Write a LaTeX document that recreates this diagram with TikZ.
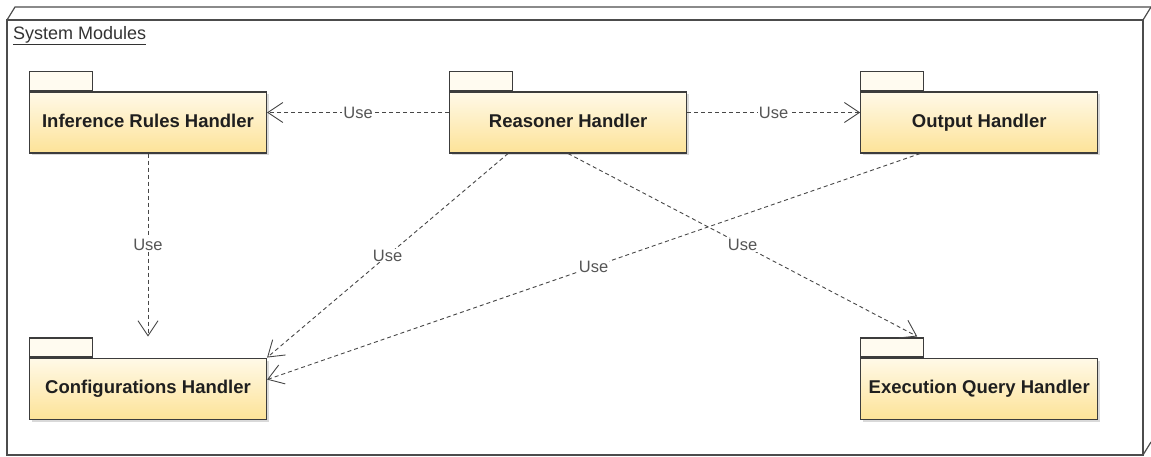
\documentclass[tikz,border=0pt]{standalone}
\usepackage{fontspec}
\setmainfont{Liberation Sans}
\usepackage{tikz}
\usetikzlibrary{calc, arrows.meta, positioning, shadows}
\definecolor{pkgtop}{RGB}{255,249,232}
\definecolor{pkgbottom}{RGB}{253,227,152}
\definecolor{tabfill}{RGB}{255,251,240}
\definecolor{pkgline}{RGB}{60,60,60}
\definecolor{uselabel}{RGB}{85,85,85}

\begin{document}
\begin{tikzpicture}[
        x=1pt, y=-1pt,
        frameline/.style = {draw=black!70, line width=1.2pt},
        pkg/.style = {draw=pkgline, rectangle, line width=1.1pt, top color=pkgtop, bottom color=pkgbottom,
            minimum width=237pt, minimum height=61pt, inner sep=0pt,
            text height=13pt, text depth=3.5pt,
            font=\fontsize{18.5}{21}\selectfont\bfseries, text=black!88,
            drop shadow={shadow xshift=2.5pt, shadow yshift=-2.5pt, opacity=0.3}},
        pkgtab/.style = {draw=pkgline, rectangle, line width=1.1pt, fill=tabfill,
            minimum width=63pt, minimum height=19pt, inner sep=0pt, anchor=south west},
        dep/.style = {draw=black!72, dash pattern=on 4pt off 3pt, line width=0.9pt,
            -{Straight Barb[length=15pt, width=20pt, line width=0.9pt]}},
        uselbl/.style = {fill=white, inner sep=1pt, font=\fontsize{16.5}{19}\selectfont, text=uselabel}
    ]
        \useasboundingbox (0,0) rectangle (1151,457);
        \clip (0,0) rectangle (1151,457);

        % System frame
        \draw [frameline] (7,20) rectangle (1143,455);
        \draw [frameline] (7,20) -- (15,7) -- (1151,7);
        \draw [frameline] (1143,20) -- (1151,7);
        \draw [frameline] (1143,455) -- (1151,442);
        \node (title) [anchor=north west, inner sep=0pt, font=\fontsize{18}{21}\selectfont, text=black!80] at (13,26) {\underline{System Modules}};

        % Packages
        \node (inf) [pkg] at (148,122.5) {Inference Rules Handler};
        \node (rea) [pkg, right=182pt of inf] {Reasoner Handler};
        \node (out) [pkg, right=173pt of rea] {Output Handler};
        \node (cfg) [pkg, below=204pt of inf] {Configurations Handler};
        \node (exe) [pkg, below=204pt of out] {Execution Query Handler};

        % Tabs
        \node (inftab) [pkgtab] at (inf.north west) {};
        \node (reatab) [pkgtab] at (rea.north west) {};
        \node (outtab) [pkgtab] at (out.north west) {};
        \node (cfgtab) [pkgtab] at (cfg.north west) {};
        \node (exetab) [pkgtab] at (exe.north west) {};

        % Dependencies
        \draw [dep] ($(rea.west)+(0,-10)$) -- node [uselbl] {Use} ($(inf.east)+(0,-10)$);
        \draw [dep] ($(rea.east)+(0,-10)$) -- node [uselbl] {Use} ($(out.west)+(0,-10)$);
        \draw [dep] (inf.south) -- node [uselbl] {Use} ($(cfg.north)+(0,-21)$);
        \draw [dep] ($(rea.south west)+(59,0)$) -- node [uselbl] {Use} (cfg.north east);
        \draw [dep] ($(out.south west)+(60,0)$) -- node [uselbl] {Use} ($(cfg.east)+(0,-9)$);
        \draw [dep] ($(rea.south west)+(119,0)$) -- node [uselbl] {Use} ($(exetab.north east)+(-7,-1)$);

    \end{tikzpicture}
\end{document}
